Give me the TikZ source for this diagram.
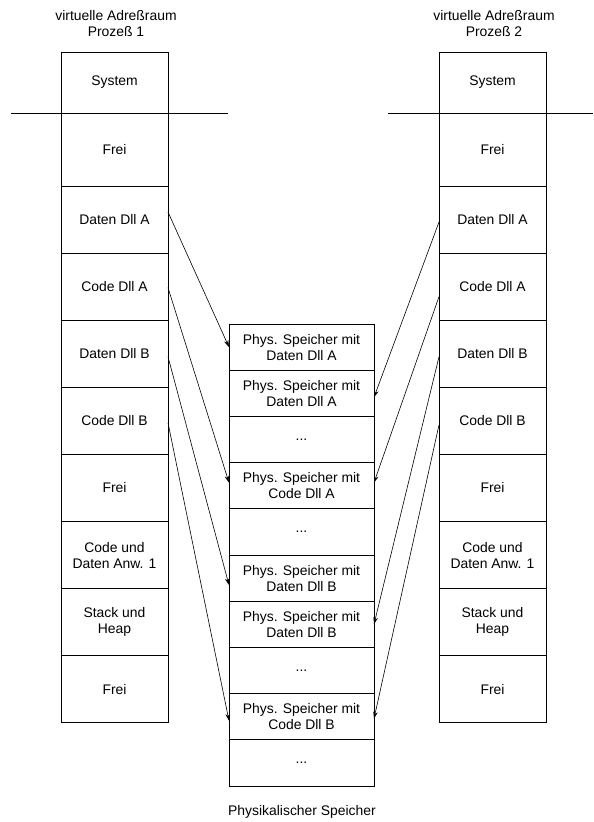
\documentclass[tikz,border=0pt]{standalone}
\usepackage{fontspec}
\setmainfont{Liberation Sans}
\usetikzlibrary{arrows.meta,calc}
\begin{document}
\begin{tikzpicture}[x=1pt,y=-1pt,
  every node/.style={font=\fontsize{13.9}{16}\selectfont},
  cell/.style={draw, line width=0.8pt, inner sep=0pt, outer sep=0pt, align=center, minimum width=107pt},
  mcell/.style={draw, line width=0.8pt, inner sep=0pt, outer sep=0pt, align=center, minimum width=145pt, minimum height=46.2pt},
  ttl/.style={align=center, inner sep=0pt},
  conn/.style={line width=0.6pt, -{Stealth[length=7pt,width=4.5pt]}},
  sep/.style={line width=0.8pt}]
\useasboundingbox (0,0) rectangle (594,822);
% titles
\node[ttl] (t1) at (116,24) {virtuelle Adreßraum\\Prozeß 1};
\node[ttl] (t2) at (494,24) {virtuelle Adreßraum\\Prozeß 2};
\node[ttl] (t3) at (302,812) {Physikalischer Speicher};
% left and right columns
\foreach \c/\n in {114.5/L, 492.5/R}{
  \node[cell, minimum height=61pt] (\n0) at (\c,82.5) {System};
  \node[cell, minimum height=73pt] (\n1) at (\c,149.5) {Frei};
  \node[cell, minimum height=67.1pt] (\n2) at (\c,219.55) {Daten Dll A};
  \node[cell, minimum height=67.1pt] (\n3) at (\c,286.65) {Code Dll A};
  \node[cell, minimum height=67.1pt] (\n4) at (\c,353.75) {Daten Dll B};
  \node[cell, minimum height=67.1pt] (\n5) at (\c,420.85) {Code Dll B};
  \node[cell, minimum height=67.1pt] (\n6) at (\c,487.95) {Frei};
  \node[cell, minimum height=67.1pt] (\n7) at (\c,555.05) {Code und\\Daten Anw. 1};
  \node[cell, minimum height=67.1pt] (\n8) at (\c,622.15) {Stack und\\Heap};
  \node[cell, minimum height=67.1pt] (\n9) at (\c,689.25) {Frei};
}
% separator lines
\coordinate (sl1) at (11,113);
\coordinate (sl2) at (228,113);
\coordinate (sr1) at (388,113);
\coordinate (sr2) at (593,113);
\draw[sep] (sl1) -- (sl2);
\draw[sep] (sr1) -- (sr2);
% middle column
\node[mcell] (M1) at (301.5,347.1) {Phys. Speicher mit\\Daten Dll A};
\node[mcell] (M2) at (301.5,393.3) {Phys. Speicher mit\\Daten Dll A};
\node[mcell] (M3) at (301.5,439.5) {...};
\node[mcell] (M4) at (301.5,485.7) {Phys. Speicher mit\\Code Dll A};
\node[mcell] (M5) at (301.5,531.9) {...};
\node[mcell] (M6) at (301.5,578.1) {Phys. Speicher mit\\Daten Dll B};
\node[mcell] (M7) at (301.5,624.3) {Phys. Speicher mit\\Daten Dll B};
\node[mcell] (M8) at (301.5,670.5) {...};
\node[mcell] (M9) at (301.5,716.7) {Phys. Speicher mit\\Code Dll B};
\node[mcell] (M10) at (301.5,762.9) {...};
% arrows left
\draw[conn] ($(L2.east)+(0,-7.5)$) -- ($(M1.west)+(0,0)$);
\draw[conn] ($(L3.east)+(0,1)$) -- ($(M4.west)+(0,-3)$);
\draw[conn] ($(L4.east)+(0,3)$) -- ($(M6.west)+(0,7)$);
\draw[conn] ($(L5.east)+(0,2)$) -- ($(M9.west)+(0,4)$);
% arrows right
\draw[conn] ($(R2.west)+(0,2.5)$) -- ($(M2.east)+(0,4)$);
\draw[conn] ($(R3.west)+(0,10)$) -- ($(M4.east)+(0,-3)$);
\draw[conn] ($(R4.west)+(0,3)$) -- ($(M7.east)+(0,0)$);
\draw[conn] ($(R5.west)+(0,4)$) -- ($(M9.east)+(0,2)$);
\end{tikzpicture}
\end{document}
